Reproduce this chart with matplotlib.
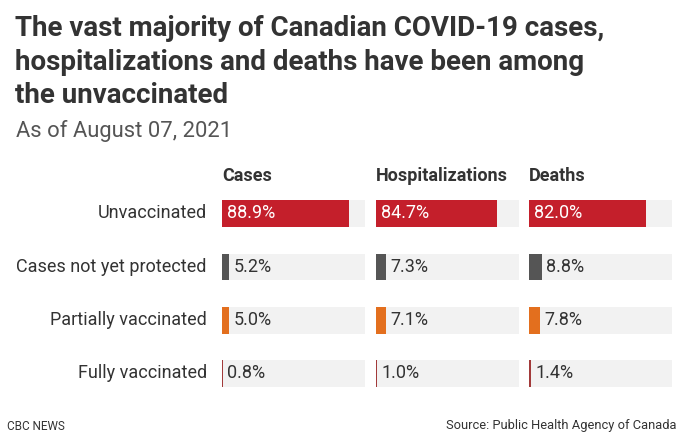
import matplotlib

matplotlib.use("Agg", force=True)
import matplotlib.pyplot as plt

plt.rcParams["font.family"] = ["Roboto", "DejaVu Sans"]

W, H = 687, 446

groups = ["Unvaccinated", "Cases not yet protected", "Partially vaccinated", "Fully vaccinated"]
measures = ["Cases", "Hospitalizations", "Deaths"]
cases = [88.9, 5.2, 5.0, 0.8]
hospitalizations = [84.7, 7.3, 7.1, 1.0]
deaths = [82.0, 8.8, 7.8, 1.4]
values = [cases, hospitalizations, deaths]

title_lines = [
    "The vast majority of Canadian COVID-19 cases,",
    "hospitalizations and deaths have been among",
    "the unvaccinated",
]
subtitle = "As of August 07, 2021"
credit = "CBC NEWS"
source = "Source: Public Health Agency of Canada"

bar_colors = ["#c41f2b", "#555555", "#e36f1e", "#a23a3a"]
track_color = "#f2f2f2"
text_dark = "#333333"


def fx(x):
    return x / W


def fy(y):
    return 1 - y / H


fig = plt.figure(figsize=(W / 100, H / 100), dpi=100)

# title block
for line, base in zip(title_lines, [36, 69.5, 103]):
    fig.text(fx(15), fy(base), line, fontsize=20, fontweight="bold",
             color=text_dark, va="baseline", ha="left")
fig.text(fx(16), fy(137), subtitle, fontsize=15.8, color="#555555",
         va="baseline", ha="left")

# panels
row_top, row_bottom = 213.5, 373.5
step = (row_bottom - row_top) / (len(groups) - 1)
ax_top = row_top - step / 2
ax_bot = row_bottom + step / 2
panel_left = [222, 376, 529]
panel_width = 143

axes = []
for k, (name, vals) in enumerate(zip(measures, values)):
    ax = fig.add_axes([fx(panel_left[k]), fy(ax_bot), panel_width / W, (ax_bot - ax_top) / H])
    ypos = list(range(len(groups)))
    ax.barh(ypos, [100] * len(groups), height=0.5, color=track_color)
    ax.barh(ypos, vals, height=0.5, color=bar_colors)
    for i, v in enumerate(vals):
        if v > 50:
            ax.annotate(f"{v:.1f}%", xy=(0, i), xytext=(3.5, 0), textcoords="offset points",
                        ha="left", va="center", color="white", fontsize=13)
        else:
            ax.annotate(f"{v:.1f}%", xy=(v, i), xytext=(3, 0), textcoords="offset points",
                        ha="left", va="center", color=text_dark, fontsize=13)
    ax.set_xlim(0, 100)
    ax.set_ylim(len(groups) - 0.5, -0.5)
    ax.axis("off")
    fig.text(fx(panel_left[k]), fy(176), name, fontsize=13, fontweight="bold",
             color=text_dark, ha="left", va="center")
    axes.append(ax)

# row labels
for i, g in enumerate(groups):
    axes[0].annotate(g, xy=(0, i), xytext=(-11, 0), textcoords="offset points",
                     ha="right", va="center", color=text_dark, fontsize=13,
                     annotation_clip=False)

fig.text(fx(7), fy(426), credit, fontsize=8.5, color=text_dark, ha="left", va="center")
fig.text(fx(677), fy(426), source, fontsize=9.3, color=text_dark, ha="right", va="center")

fig.savefig("out.png", dpi=100)
plt.close(fig)
